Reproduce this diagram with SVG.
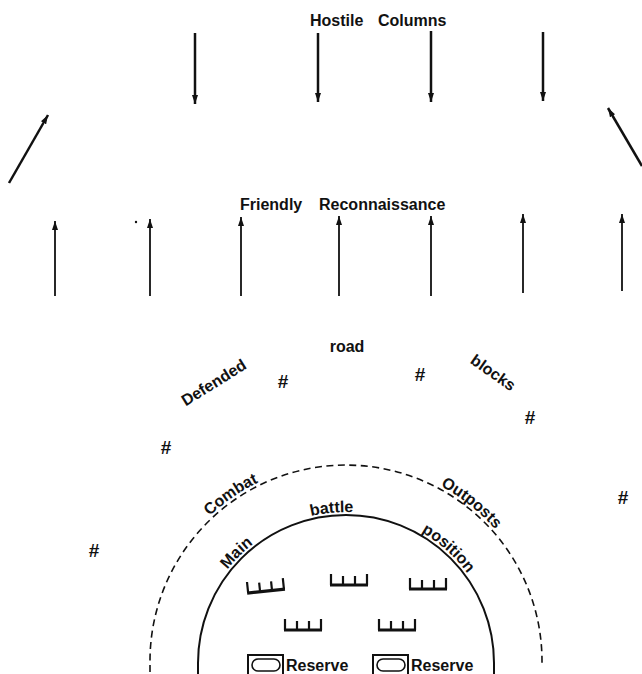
<svg xmlns="http://www.w3.org/2000/svg" width="642" height="674" viewBox="0 0 642 674">
<style>
.lbl{font-family:"Liberation Sans",Arial,sans-serif;font-weight:bold;font-size:16px;fill:#111}
.rb{font-family:"Liberation Sans",Arial,sans-serif;font-weight:bold;font-size:19px;fill:#111;text-anchor:middle}
.arr{stroke:#111;stroke-width:1.8;fill:none;marker-end:url(#ah)}
.arrT{stroke:#111;stroke-width:2.5;fill:none;marker-end:url(#ah)}
.trench path{stroke:#111;fill:none}
</style>
<defs>
<marker id="ah" viewBox="0 0 9 6" refX="9" refY="3" markerWidth="9" markerHeight="6" markerUnits="userSpaceOnUse" orient="auto">
<path d="M0,0 L9,3 L0,6 z" fill="#111"/>
</marker>
<path id="outerArc" d="M147,661 A199,199 0 0 1 545,661"/>
<path id="innerArc" d="M195,663 A151,151 0 0 1 497,663"/>
<g id="trench" class="trench">
<path d="M0,0V11M12,2V11M24,2V11M36,0V11" stroke-width="2.2"/>
<path d="M-1,11H37" stroke-width="3.2"/>
</g>
</defs>
<rect width="642" height="674" fill="#fff"/>

<g id="hostile-label"><text class="lbl"><tspan x="310" y="26">Hostile</tspan><tspan x="378" y="26">Columns</tspan></text></g>
<g id="friendly-label"><text class="lbl"><tspan x="240" y="210">Friendly</tspan><tspan x="319" y="210">Reconnaissance</tspan></text></g>

<g id="connectors">
<line class="arrT" x1="195" y1="33" x2="195" y2="104"/>
<line class="arrT" x1="318" y1="33" x2="318" y2="102"/>
<line class="arrT" x1="431" y1="31" x2="431" y2="102"/>
<line class="arrT" x1="543" y1="32" x2="543" y2="101"/>
<line class="arrT" x1="9" y1="183" x2="48" y2="115"/>
<line class="arrT" x1="642" y1="166" x2="608" y2="108"/>
<line class="arr" x1="55" y1="296" x2="55" y2="221"/>
<line class="arr" x1="150" y1="296" x2="150" y2="219"/>
<line class="arr" x1="241" y1="296" x2="241" y2="217"/>
<line class="arr" x1="339" y1="296" x2="339" y2="216"/>
<line class="arr" x1="431" y1="296" x2="431" y2="216"/>
<line class="arr" x1="523" y1="293" x2="523" y2="214"/>
<line class="arr" x1="622" y1="291" x2="622" y2="214"/>
</g>
<circle cx="136" cy="222" r="1.2" fill="#111"/>

<g id="roadblocks">
<text class="lbl" text-anchor="middle" transform="translate(214,383) rotate(-32)" y="5">Defended</text>
<text class="lbl" text-anchor="middle" x="347" y="352">road</text>
<text class="lbl" text-anchor="middle" transform="translate(493,373) rotate(35)" y="5">blocks</text>
<text class="rb" x="283" y="388">#</text>
<text class="rb" x="420" y="381">#</text>
<text class="rb" x="530" y="424">#</text>
<text class="rb" x="166" y="454">#</text>
<text class="rb" x="623" y="504">#</text>
<text class="rb" x="94" y="557">#</text>
</g>

<g id="combat-outposts">
<path d="M150,672 V661 A196,196 0 0 1 542,661 V663" fill="none" stroke="#111" stroke-width="1.6" stroke-dasharray="7,4.5"/>
<text class="lbl"><textPath href="#outerArc" startOffset="192" text-anchor="middle">Combat</textPath></text>
<text class="lbl"><textPath href="#outerArc" startOffset="446" text-anchor="middle">Outposts</textPath></text>
</g>

<g id="main-battle-position">
<path d="M198,674 V663 A148,148 0 0 1 494,663 V674" fill="none" stroke="#111" stroke-width="2"/>
<text class="lbl"><textPath href="#innerArc" startOffset="119" text-anchor="middle">Main</textPath></text>
<text class="lbl"><textPath href="#innerArc" startOffset="223" text-anchor="middle">battle</textPath></text>
<text class="lbl"><textPath href="#innerArc" startOffset="347" text-anchor="middle">position</textPath></text>
</g>

<g id="trenches">
<use href="#trench" transform="translate(247,582) rotate(-6)"/>
<use href="#trench" transform="translate(331,574)"/>
<use href="#trench" transform="translate(410,578)"/>
<use href="#trench" transform="translate(285,619)"/>
<use href="#trench" transform="translate(379,619)"/>
</g>

<g id="reserve-1">
<path d="M248,676 V655 H283 V676" fill="none" stroke="#111" stroke-width="2"/>
<rect x="252" y="659" width="28" height="12" rx="6" fill="none" stroke="#111" stroke-width="1.6"/>
<text class="lbl" x="286" y="671">Reserve</text>
</g>
<g id="reserve-2">
<path d="M373,676 V655 H408 V676" fill="none" stroke="#111" stroke-width="2"/>
<rect x="377" y="659" width="28" height="12" rx="6" fill="none" stroke="#111" stroke-width="1.6"/>
<text class="lbl" x="411" y="671">Reserve</text>
</g>
</svg>
